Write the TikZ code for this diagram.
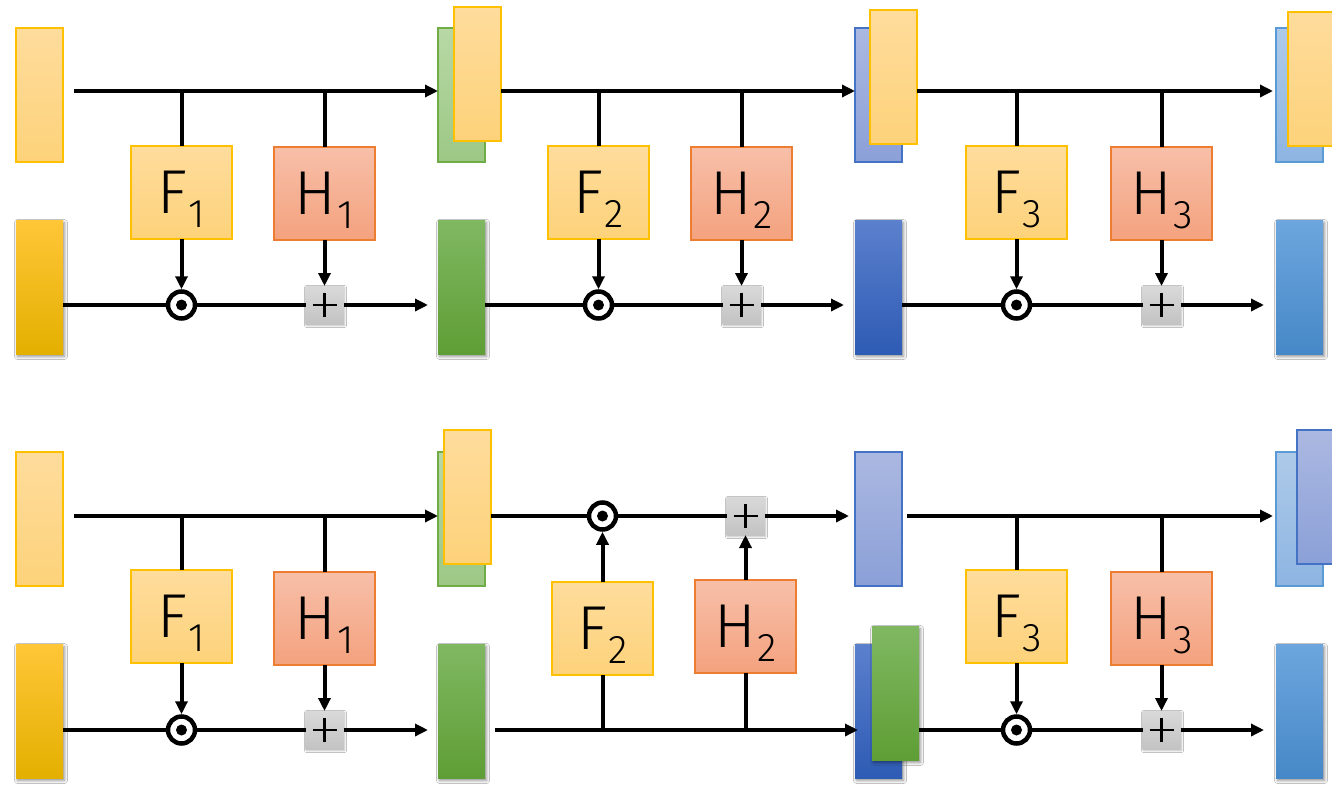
\documentclass[tikz,border=0pt]{standalone}
\usepackage{fontspec}
\newfontfamily\lblfont{Fira Sans Light}
\usetikzlibrary{arrows.meta,shadows.blur,calc}

% fills and edges
\definecolor{yTop}{HTML}{FEDC9C}\definecolor{yBot}{HTML}{FDD27A}\definecolor{yEdge}{HTML}{FFC000}
\definecolor{hTop}{HTML}{F7BFA9}\definecolor{hBot}{HTML}{F4A27E}\definecolor{hEdge}{HTML}{ED7D31}
\definecolor{ydTop}{HTML}{FFC637}\definecolor{ydMid}{HTML}{FFC000}\definecolor{ydBot}{HTML}{E3B000}
\definecolor{glTop}{HTML}{B8D8A5}\definecolor{glBot}{HTML}{9CC885}\definecolor{glEdge}{HTML}{70AD47}
\definecolor{gdTop}{HTML}{80B862}\definecolor{gdMid}{HTML}{70AE41}\definecolor{gdBot}{HTML}{5F9E35}
\definecolor{blTop}{HTML}{ABB8E1}\definecolor{blBot}{HTML}{8BA0D8}\definecolor{blEdge}{HTML}{4472C4}
\definecolor{bdTop}{HTML}{5B80CD}\definecolor{bdMid}{HTML}{3F6CC6}\definecolor{bdBot}{HTML}{2E5BB4}
\definecolor{clTop}{HTML}{AECAE9}\definecolor{clBot}{HTML}{8DB5E2}\definecolor{clEdge}{HTML}{5B9BD5}
\definecolor{cdTop}{HTML}{6DA6DE}\definecolor{cdMid}{HTML}{5799D8}\definecolor{cdBot}{HTML}{4688C7}
\definecolor{pTop}{HTML}{D9D9D9}\definecolor{pBot}{HTML}{C3C3C3}

% lowered index digit that does not change the label's box
\newcommand\lowsub[1]{\kern1pt\raisebox{-14pt}[0pt][0pt]{\fontsize{40}{40}\selectfont #1}}

\begin{document}
\begin{tikzpicture}[x=1pt,y=-1pt,
  col/.style={rectangle, inner sep=0pt, outer sep=0pt, minimum width=47pt,
    minimum height=134pt, anchor=north west, line width=1.1pt},
  dshadow/.style={blur shadow={shadow xshift=1.5pt, shadow yshift=-2.5pt,
    shadow blur radius=3pt, shadow opacity=45}},
  ylt/.style={col, top color=yTop, bottom color=yBot, draw=yEdge},
  ydk/.style={col, dshadow, top color=ydTop, middle color=ydMid, bottom color=ydBot},
  glt/.style={col, top color=glTop, bottom color=glBot, draw=glEdge},
  gdk/.style={col, dshadow, top color=gdTop, middle color=gdMid, bottom color=gdBot},
  blt/.style={col, top color=blTop, bottom color=blBot, draw=blEdge},
  bdk/.style={col, dshadow, top color=bdTop, middle color=bdMid, bottom color=bdBot},
  clt/.style={col, top color=clTop, bottom color=clBot, draw=clEdge},
  cdk/.style={col, dshadow, top color=cdTop, middle color=cdMid, bottom color=cdBot},
  opbox/.style={rectangle, inner sep=0pt, outer sep=0pt, minimum width=101pt,
    minimum height=93pt, anchor=north west, line width=1.2pt,
    font=\lblfont\fontsize{62}{62}\selectfont},
  fbox/.style={opbox, top color=yTop, bottom color=yBot, draw=yEdge},
  hbox/.style={opbox, top color=hTop, bottom color=hBot, draw=hEdge},
  prod/.style={circle, minimum size=27pt, inner sep=0pt, draw=black, line width=4.5pt,
    fill=white, path picture={\fill[black] (path picture bounding box.center) circle (5.5pt);}},
  sum/.style={rectangle, minimum size=38pt, inner sep=0pt, outer sep=0pt,
    top color=pTop, bottom color=pBot,
    blur shadow={shadow xshift=1pt, shadow yshift=-1.5pt, shadow blur radius=2pt, shadow opacity=30},
    path picture={
      \draw[black, line width=2.6pt] ([xshift=-12pt]path picture bounding box.center) -- ([xshift=12pt]path picture bounding box.center);
      \draw[black, line width=2.6pt] ([yshift=-12pt]path picture bounding box.center) -- ([yshift=12pt]path picture bounding box.center);}},
  wire/.style={line width=4pt},
  arr/.style={wire, -{Triangle[length=13pt,width=12pt]}}
]
\useasboundingbox (0,0) rectangle (1332,784);
\fill[white] (0,0) rectangle (1332,784);

% levels of the four horizontal streams
\coordinate (uyt) at (0,91);  \coordinate (uyb) at (0,305);
\coordinate (lyt) at (0,516); \coordinate (lyb) at (0,730);

% ================= upper network =================
\node[ylt] (ua1) at (16,28) {};
\node[ydk] (ua2) at (16,220) {};
\node[glt] (ug1) at (438,28) {};
\node[ylt] (ug1o) at (454,7) {};
\node[gdk] (ug2) at (438,220) {};
\node[blt] (ub1) at (855,28) {};
\node[ylt] (ub1o) at (870,10) {};
\node[bdk] (ub2) at (855,220) {};
\node[clt] (uc1) at (1276,28) {};
\node[ylt] (uc1o) at (1288,12) {};
\node[cdk] (uc2) at (1276,220) {};

\node[fbox] (uF1) at (131,146) {F\lowsub{1}};
\node[hbox] (uH1) at (274,147) {H\lowsub{1}};
\node[fbox] (uF2) at (548,146) {F\lowsub{2}};
\node[hbox] (uH2) at (691,147) {H\lowsub{2}};
\node[fbox] (uF3) at (966,146) {F\lowsub{3}};
\node[hbox] (uH3) at (1111,147) {H\lowsub{3}};

\node[prod] (uo1) at (uF1.south |- uyb) {};
\node[sum]  (up1) at (uH1.south |- uyb) {};
\node[prod] (uo2) at (uF2.south |- uyb) {};
\node[sum]  (up2) at (uH2.south |- uyb) {};
\node[prod] (uo3) at (uF3.south |- uyb) {};
\node[sum]  (up3) at (uH3.south |- uyb) {};

% block 1
\coordinate (ut1s) at (74,91);
\draw[arr] (ut1s) -- (ug1.west |- uyt);
\draw[wire] (uF1.north) -- (uF1.north |- uyt);
\draw[wire] (uH1.north) -- (uH1.north |- uyt);
\draw[arr] (uF1) -- (uo1);
\draw[arr] (uH1) -- (up1);
\draw[wire] (ua2.east |- uyb) -- (uo1) -- (up1);
\draw[arr] (up1) -- ($(ug2.west |- uyb)+(-10,0)$);
% block 2
\draw[arr] (ug1o.east |- uyt) -- (ub1.west |- uyt);
\draw[wire] (uF2.north) -- (uF2.north |- uyt);
\draw[wire] (uH2.north) -- (uH2.north |- uyt);
\draw[arr] (uF2) -- (uo2);
\draw[arr] (uH2) -- (up2);
\draw[wire] (ug2.east |- uyb) -- (uo2) -- (up2);
\draw[arr] (up2) -- ($(ub2.west |- uyb)+(-11,0)$);
% block 3
\draw[arr] (ub1o.east |- uyt) -- ($(uc1.west |- uyt)+(-3,0)$);
\draw[wire] (uF3.north) -- (uF3.north |- uyt);
\draw[wire] (uH3.north) -- (uH3.north |- uyt);
\draw[arr] (uF3) -- (uo3);
\draw[arr] (uH3) -- (up3);
\draw[wire] (ub2.east |- uyb) -- (uo3) -- (up3);
\draw[arr] (up3) -- ($(uc2.west |- uyb)+(-12,0)$);

% ================= lower network =================
\node[ylt] (la1) at (16,452) {};
\node[ydk] (la2) at (16,644) {};
\node[glt] (lg1) at (438,452) {};
\node[ylt] (lg1o) at (444,430) {};
\node[gdk] (lg2) at (438,644) {};
\node[blt] (lb1) at (855,452) {};
\node[bdk] (lb2) at (855,644) {};
\node[clt] (lc1) at (1276,452) {};
\node[blt] (lc1o) at (1297,430) {};
\node[cdk] (lc2) at (1276,644) {};

\node[fbox] (lF1) at (131,570) {F\lowsub{1}};
\node[hbox] (lH1) at (274,572) {H\lowsub{1}};
\node[fbox] (lF2) at (552,582) {F\lowsub{2}};
\node[hbox] (lH2) at (695,580) {H\lowsub{2}};
\node[fbox] (lF3) at (966,570) {F\lowsub{3}};
\node[hbox] (lH3) at (1111,572) {H\lowsub{3}};

\node[prod] (lo1) at (lF1.south |- lyb) {};
\node[sum]  (lp1) at (lH1.south |- lyb) {};
\node[prod] (lo2) at (lF2.north |- lyt) {};
\node[sum]  (lp2) at (lH2.north |- lyt) {};
\node[prod] (lo3) at (lF3.south |- lyb) {};
\node[sum]  (lp3) at (lH3.south |- lyb) {};

% block 1
\coordinate (lt1s) at (74,516);
\draw[arr] (lt1s) -- (lg1.west |- lyt);
\draw[wire] (lF1.north) -- (lF1.north |- lyt);
\draw[wire] (lH1.north) -- (lH1.north |- lyt);
\draw[arr] (lF1) -- (lo1);
\draw[arr] (lH1) -- (lp1);
\draw[wire] (la2.east |- lyb) -- (lo1) -- (lp1);
\draw[arr] (lp1) -- ($(lg2.west |- lyb)+(-10,0)$);
% block 2 (roles of the two streams swapped)
\draw[wire] (lg1o.east |- lyt) -- (lo2) -- (lp2);
\draw[arr] (lp2) -- ($(lb1.west |- lyt)+(-6,0)$);
\draw[arr] (lF2) -- (lo2);
\draw[arr] (lH2) -- (lp2);
\coordinate (lb2s) at (495,730);
\draw[arr] (lb2s) -- ($(lb2.west |- lyb)+(3,0)$);
\draw[wire] (lF2.south |- lyb) -- (lF2.south);
\draw[wire] (lH2.south |- lyb) -- (lH2.south);
\node[gdk] (lb2o) at (872,626) {};
% block 3
\draw[arr] ($(lb1.east |- lyt)+(5,0)$) -- ($(lc1.west |- lyt)+(-3,0)$);
\draw[wire] (lF3.north) -- (lF3.north |- lyt);
\draw[wire] (lH3.north) -- (lH3.north |- lyt);
\draw[arr] (lF3) -- (lo3);
\draw[arr] (lH3) -- (lp3);
\draw[wire] (lb2o.east |- lyb) -- (lo3) -- (lp3);
\draw[arr] (lp3) -- ($(lc2.west |- lyb)+(-12,0)$);
\end{tikzpicture}
\end{document}
